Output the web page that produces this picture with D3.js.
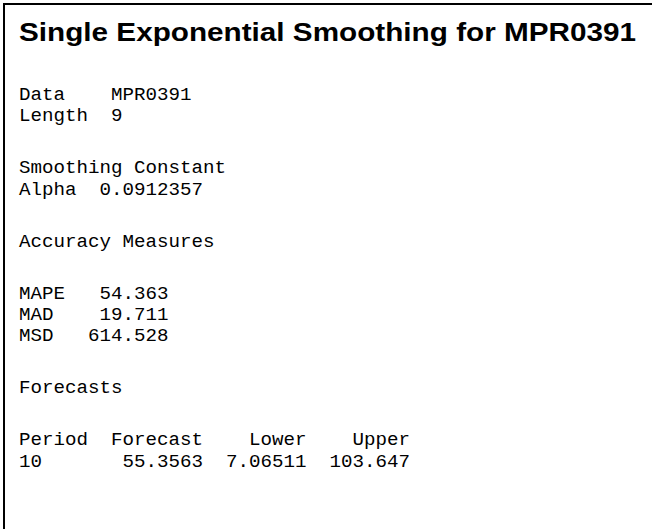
<!DOCTYPE html>
<html>
<head>
<meta charset="utf-8">
<script src="https://cdn.jsdelivr.net/npm/d3@7"></script>
<style>
  html, body { margin: 0; padding: 0; background: #fff; }
  svg { display: block; }
</style>
</head>
<body>
<div id="chart"></div>
<script>
// ---- data ----
const titleText = "Single Exponential Smoothing for MPR0391";
const dataLabels = ["Data", "Length"];
const dataValues = ["MPR0391", "9"];
const smoothingHeader = "Smoothing Constant";
const smoothingLabels = ["Alpha"];
const smoothingValues = ["0.0912357"];
const accuracyHeader = "Accuracy Measures";
const measureNames = ["MAPE", "MAD", "MSD"];
const measureValues = ["54.363", "19.711", "614.528"];
const forecastHeader = "Forecasts";
const forecastColumns = ["Period", "Forecast", "Lower", "Upper"];
const forecastPeriods = ["10"];
const forecastValues = ["55.3563"];
const forecastLower = ["7.06511"];
const forecastUpper = ["103.647"];

// ---- layout ----
const W = 652, H = 529;
const charW = 11.5;          // monospace advance
const monoSize = charW / 0.6;
const col = d3.scaleLinear().domain([0, 1]).range([19, 19 + charW]);

const lines = [];
dataLabels.forEach((l, i) => lines.push([{t: l, c: 0, a: "start"}, {t: dataValues[i], c: 8, a: "start"}]));
lines.push("gap");
lines.push([{t: smoothingHeader, c: 0, a: "start"}]);
smoothingLabels.forEach((l, i) => lines.push([{t: l, c: 0, a: "start"}, {t: smoothingValues[i], c: 7, a: "start"}]));
lines.push("gap");
lines.push([{t: accuracyHeader, c: 0, a: "start"}]);
lines.push("gap");
measureNames.forEach((l, i) => lines.push([{t: l, c: 0, a: "start"}, {t: measureValues[i], c: 13, a: "end"}]));
lines.push("gap");
lines.push([{t: forecastHeader, c: 0, a: "start"}]);
lines.push("gap");
const fcEnds = [null, 16, 25, 34];
lines.push(forecastColumns.map((h, i) => i === 0 ? {t: h, c: 0, a: "start"} : {t: h, c: fcEnds[i], a: "end"}));
forecastPeriods.forEach((p, i) => {
  lines.push([
    {t: p, c: 0, a: "start"},
    {t: forecastValues[i], c: fcEnds[1], a: "end"},
    {t: forecastLower[i], c: fcEnds[2], a: "end"},
    {t: forecastUpper[i], c: fcEnds[3], a: "end"}
  ]);
});

// vertical positions: line pitch and extra height of a blank line
const pitch = 21.3, gapExtra = 30.7, firstBaseline = 100;
let y = firstBaseline;
const placed = [];
lines.forEach(ln => {
  if (ln === "gap") { y += gapExtra; return; }
  if (placed.length > 0) y += pitch;
  placed.push({y, segs: ln});
});

const svg = d3.select("#chart").append("svg")
  .attr("width", W).attr("height", H);

svg.append("rect").attr("width", W).attr("height", H).attr("fill", "#fff");

// frame (top and left edges visible)
svg.append("path")
  .attr("d", d3.line()([[4, H + 2], [4, 4], [W + 2, 4]]))
  .attr("fill", "none").attr("stroke", "#000").attr("stroke-width", 2);

svg.append("text")
  .attr("x", 19).attr("y", 41)
  .attr("font-family", "'Liberation Sans', Arial, sans-serif")
  .attr("font-weight", "bold")
  .attr("font-size", 26)
  .attr("textLength", 617)
  .attr("lengthAdjust", "spacingAndGlyphs")
  .attr("fill", "#000")
  .text(titleText);

const g = svg.append("g")
  .attr("font-family", "'Liberation Mono', 'Courier New', monospace")
  .attr("font-size", monoSize)
  .attr("fill", "#000");

placed.forEach(p => {
  g.selectAll(null).data(p.segs).enter().append("text")
    .attr("x", d => col(d.c))
    .attr("y", p.y)
    .attr("text-anchor", d => d.a)
    .text(d => d.t);
});
</script>
</body>
</html>
